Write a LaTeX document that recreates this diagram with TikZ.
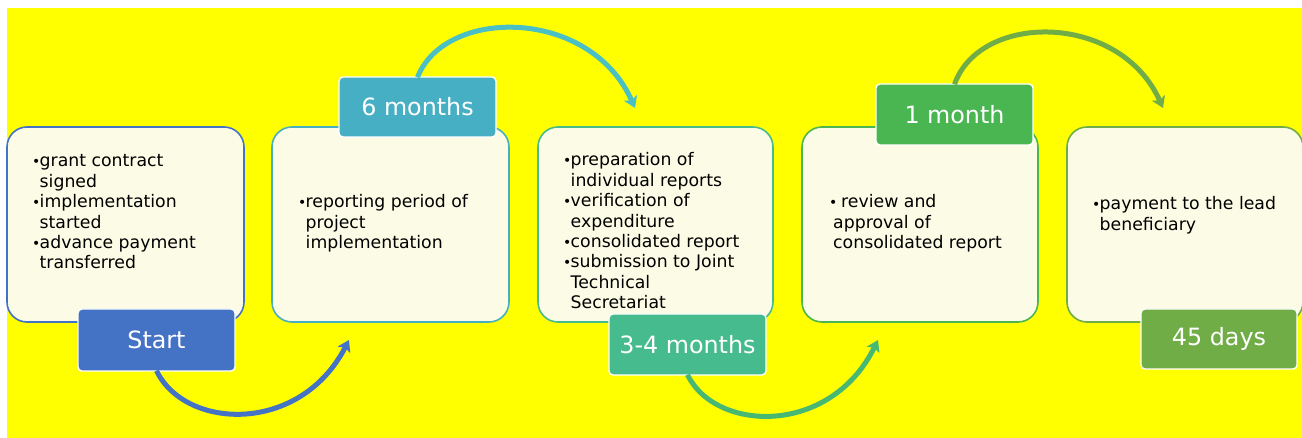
\documentclass[tikz,border=0pt]{standalone}
\usepackage{fontspec}
\setmainfont{DejaVu Sans}
\usetikzlibrary{arrows.meta}
\definecolor{bg}{HTML}{FFFF00}
\definecolor{cream}{HTML}{FCFCE6}
\definecolor{cA}{HTML}{4472C4}
\definecolor{cB}{HTML}{47AFC4}
\definecolor{cBarr}{HTML}{4BC0C4}
\definecolor{cC}{HTML}{46BC8E}
\definecolor{cCarr}{HTML}{47B872}
\definecolor{cD}{HTML}{4AB652}
\definecolor{cE}{HTML}{70AD47}
\newcommand\bul{\makebox[7.5pt][l]{\fontsize{14}{14}\selectfont •}}
\newcommand\bulnarrow{\makebox[4pt][l]{\fontsize{14}{14}\selectfont •}}
\newenvironment{blist}{\fontsize{17.3}{20.4}\selectfont\begin{tabular}[t]{@{}l@{}l@{}}}{\end{tabular}}
\tikzset{
  stagebox/.style={draw, line width=1.6pt, fill=cream, rounded corners=20pt},
  lblbox/.style={draw=white, line width=1.4pt, rounded corners=4pt, text=white,
    font=\fontsize{23.8}{26}\selectfont, inner sep=0pt},
  bodytext/.style={anchor=base west, inner sep=0pt},
  flow/.style={line width=5pt, -{Stealth[length=11pt,width=14pt,inset=2.5pt]}},
}
\begin{document}
\begin{tikzpicture}[x=1pt,y=-1pt]
\useasboundingbox (0,0) rectangle (1302,438);
\fill[white] (0,0) rectangle (1302,438);
\fill[bg] (7,8) rectangle (1302,438);

% stage boxes
\draw[stagebox, draw=cA] (7,127) rectangle (244,322);
\draw[stagebox, draw=cB] (272,127) rectangle (509,322);
\draw[stagebox, draw=cC] (538,127) rectangle (773,322);
\draw[stagebox, draw=cD] (802,127) rectangle (1038,322);
\draw[stagebox, draw=cE] (1067,127) rectangle (1303,322);

% texts
\node[bodytext] (t1) at (32,167) {\begin{blist}\bul & grant contract\\ & signed\\ \bul & implementation\\ & started\\ \bul & advance payment\\ & transferred\end{blist}};
\node[bodytext] (t2) at (298,208) {\begin{blist}\bul & reporting period of\\ & project\\ & implementation\end{blist}};
\node[bodytext] (t3) at (563,166) {\begin{blist}\bul & preparation of\\ & individual reports\\ \bul & verification of\\ & expenditure\\ \bul & consolidated report\\ \bul & submission to Joint\\ & Technical\\ & Secretariat\end{blist}};
\node[bodytext] (t4) at (829,208) {\begin{blist}\bulnarrow & \hspace{8pt}review and\\ & approval of\\ & consolidated report\end{blist}};
\node[bodytext] (t5) at (1092,210) {\begin{blist}\bul & payment to the lead\\ & beneficiary\end{blist}};

% labels and arrows
\coordinate (e1) at (349,340);
\coordinate (e2) at (635,108);
\coordinate (e3) at (878,340);
\coordinate (e4) at (1163,108);
\node[lblbox, fill=cA, minimum width=157pt, minimum height=62pt] (l1) at (156.5,340) {Start};
\node[lblbox, fill=cB, minimum width=157pt, minimum height=60pt] (l2) at (417.5,107) {6 months};
\node[lblbox, fill=cC, minimum width=157pt, minimum height=61pt] (l3) at (687.5,344.5) {3-4 months};
\node[lblbox, fill=cD, minimum width=157pt, minimum height=61pt] (l4) at (954.5,114.5) {1 month};
\node[lblbox, fill=cE, minimum width=156pt, minimum height=60pt] (l5) at (1219,339) {45 days};

\draw[flow, draw=cA] ([yshift=1pt]l1.south) .. controls (185,430) and (300,435) .. (e1);
\draw[flow, draw=cBarr] ([yshift=-1pt]l2.north) .. controls (445,7) and (590,7) .. (e2);
\draw[flow, draw=cCarr] ([yshift=1pt]l3.south) .. controls (715,432) and (830,437) .. (e3);
\draw[flow, draw=cE] ([yshift=-1pt]l4.north) .. controls (980,12) and (1120,12) .. (e4);
\end{tikzpicture}
\end{document}
